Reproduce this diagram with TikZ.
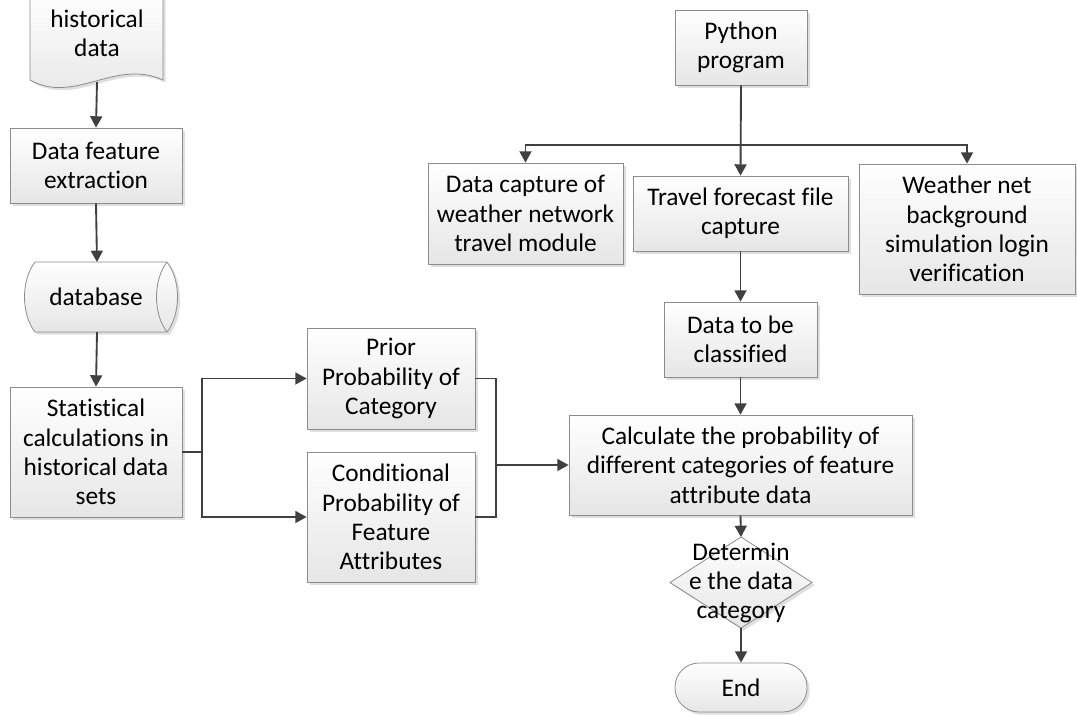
\documentclass[tikz,border=0pt]{standalone}
\usepackage{fontspec}
\setmainfont{Carlito}[Ligatures={NoCommon}]
\usetikzlibrary{arrows.meta,shadows,calc}
\definecolor{lineC}{HTML}{404040}
\definecolor{edgeC}{HTML}{8C8C8C}
\definecolor{botC}{HTML}{E6E6E6}
\tikzset{
  x=0.75pt, y=-0.75pt,
  base/.style={draw=edgeC, line width=0.6pt, top color=white, bottom color=botC,
    drop shadow={shadow xshift=2pt, shadow yshift=-2pt, fill=black!25, opacity=0.5}},
  box/.style={base, rectangle, align=center, inner sep=0pt,
    font=\fontsize{19}{22}\selectfont},
  txt/.style={align=center, inner sep=0pt, font=\fontsize{19}{22}\selectfont},
  conn/.style={draw=lineC, line width=1.4pt},
  arr/.style={conn, -{Triangle[length=8.5pt,width=9pt]}},
}
\begin{document}
\begin{tikzpicture}
\useasboundingbox (0,0) rectangle (1077,715);

% document shape
\path[base] (30,-8) -- (30,80) .. controls (75,105) and (115,58) .. (163,80) -- (163,-8) -- cycle;
\node[txt] (doc) at (97,33) {historical\\data};
\coordinate (docb) at (97,82);

\node[box, minimum width=129pt, minimum height=56.25pt] (feat) at (96,165.5) {Data feature\\extraction};

% database shape
\path[base] (35,262) -- (167,262) .. controls (181,280) and (181,314) .. (167,332)
  -- (35,332) .. controls (21,314) and (21,280) .. (35,262) -- cycle;
\draw[draw=edgeC, line width=0.6pt] (167,262) .. controls (153,280) and (153,314) .. (167,332);
\node[txt] (db) at (96,297) {database};
\coordinate (dbt) at (97,262);
\coordinate (dbb) at (97,332);

\node[box, minimum width=129pt, minimum height=97.5pt] (stat) at (96,452) {Statistical\\calculations in\\historical data\\sets};
\node[box, minimum width=126pt, minimum height=75.75pt] (prior) at (391,378.5) {Prior\\Probability of\\Category};
\node[box, minimum width=126pt, minimum height=97.5pt] (cond) at (391,517) {Conditional\\Probability of\\Feature\\Attributes};

\node[box, minimum width=99pt, minimum height=56.25pt] (py) at (741,47.5) {Python\\program};
\node[box, minimum width=146.25pt, minimum height=75.75pt] (capt) at (525.5,213.5) {Data capture of\\weather network\\travel module};
\node[box, minimum width=161.25pt, minimum height=56.25pt] (trav) at (740.5,213.5) {Travel forecast file\\capture};
\node[box, minimum width=162pt, minimum height=97.5pt] (weat) at (967,229) {Weather net\\background\\simulation login\\verification};
\node[box, minimum width=114.75pt, minimum height=56.25pt] (cls) at (740.5,339.5) {Data to be\\classified};
\node[box, minimum width=257.25pt, minimum height=75pt] (calc) at (740.5,465) {Calculate the probability of\\different categories of feature\\attribute data};

% diamond
\coordinate (dtop) at (741,537);
\coordinate (dbot) at (741,628);
\path[base] (dtop) -- (812,582.5) -- (dbot) -- (670,582.5) -- cycle;
\node[txt] (det) at (741,583) {Determin\\e the data\\category};

\node[base, rounded corners=18pt, minimum width=99pt, minimum height=36.75pt, txt] (end) at (741,687.5) {End};

% connectors
\draw[arr] (docb) -- (feat.north);
\draw[arr] (feat.south) -- (dbt);
\draw[arr] (dbb) -- (stat.north);
\draw[conn] (stat.east) -- ++(20,0) coordinate (sj);
\draw[arr] (sj) |- (prior.west);
\draw[arr] (sj) |- (cond.west);
\draw[conn] (prior.east) -- ++(21,0) coordinate (pj) -- (pj |- cond.east) -- (cond.east);
\draw[arr] (pj |- calc.west) -- (calc.west);

\draw[arr] (py.south) -- (trav.north);
\coordinate (hb) at (741,145);
\draw[arr] (hb) -| (capt.north);
\draw[arr] (hb) -| (weat.north);
\draw[arr] (trav.south) -- (cls.north);
\draw[arr] (cls.south) -- (calc.north);
\draw[arr] (calc.south) -- (dtop);
\draw[arr] (dbot) -- (end.north);
\end{tikzpicture}
\end{document}
